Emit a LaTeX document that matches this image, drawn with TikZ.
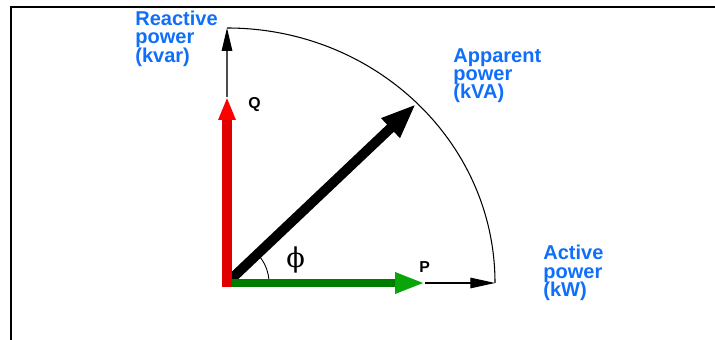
\documentclass[tikz,border=0pt]{standalone}
\usepackage{fontspec}
\setmainfont{Liberation Sans}
\newfontfamily\phifont{DejaVu Serif}
\usepackage{tikz}
\usetikzlibrary{arrows.meta, positioning, calc}
\definecolor{kvarred}{RGB}{225,0,0}
\definecolor{kvarhead}{RGB}{255,0,0}
\definecolor{kwgreen}{RGB}{0,125,0}
\definecolor{kwhead}{RGB}{10,165,10}
\definecolor{labelblue}{RGB}{15,110,250}
\newcommand{\lblfont}{\fontsize{11.4}{10.4}\selectfont\bfseries\lineskiplimit-20pt\relax}

\begin{document}
\begin{tikzpicture}[
    x=0.02cm, y=0.02cm,
    lbl/.style={anchor=north west, inner sep=0pt, align=left, text=labelblue,
                font=\lblfont},
    axlbl/.style={anchor=north west, inner sep=0pt,
                  font=\fontsize{9}{10}\selectfont\bfseries},
    thin/.style={line width=0.6pt},
    >=Stealth
  ]
    \useasboundingbox (0,0) rectangle (715,340);
    % frame
    \draw[line width=1.3pt] (11,0) -- (11,333) -- (715,333);

    \coordinate (O) at (227,57);
    \coordinate (Qbase) at (227,53);
    \coordinate (Pbase) at (231,57);
    \coordinate (Qtip) at (227,243);
    \coordinate (Ptip) at (425,57);
    \coordinate (Qtop) at (227,312);
    \coordinate (Ptop) at (495,57);
    \coordinate (Stip) at (416,236);

    % axes and circle
    \draw[thin, black!70, -{Triangle[length=13pt, width=6pt, color=black]}] (Qtip) -- (Qtop);
    \draw[thin, -{Triangle[length=14pt, width=6pt]}] (Ptip) -- (Ptop);
    \draw[thin] (Qtop) arc[start angle=90, end angle=0, x radius=268, y radius=255];
    \draw[line width=0.5pt] ($(O)+(42,0)$) arc[start angle=0, end angle=43.4, radius=42];

    % power vectors
    \draw[line width=5.6pt, -{Triangle[length=20pt, width=14pt]}] (O) -- (Stip);
    \draw[kwgreen, line width=5.1pt, -{Triangle[length=17pt, width=11pt, color=kwhead]}] (Pbase) -- (Ptip);
    \draw[kvarred, line width=5.7pt, -{Triangle[length=13pt, width=9pt, color=kvarhead]}] (Qbase) -- (Qtip);

    % labels
    \node[lbl] (kvar) at (135,329.3) {Reactive\\power\\(kvar)};
    \node[lbl] (kva) at (453,292) {Apparent\\power\\(kVA)};
    \node[lbl] (kw) at (543,95) {Active\\power\\(kW)};
    \node[axlbl] (Q) at (248,243) {Q};
    \node[axlbl] (P) at (419,79) {P};
    \node[anchor=north west, inner sep=0pt, font=\phifont\fontsize{15.5}{15.5}\selectfont] (phi) at (286,94) {ϕ};
  \end{tikzpicture}
\end{document}
